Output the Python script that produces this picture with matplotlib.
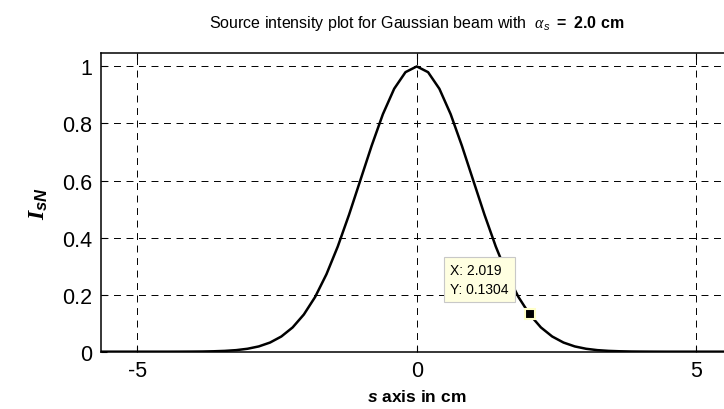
"""
Source intensity of a Gaussian beam (alpha_s = 2.0 cm), normalised.
MATLAB-style figure with a data tip at s = 2.019 cm.
"""

import matplotlib
matplotlib.use("Agg")
import matplotlib.pyplot as plt

# ── Data ─────────────────────────────────────────────────────────────────────
S_CM = [
    -5.652, -5.450, -5.248, -5.047, -4.845, -4.643, -4.441, -4.239, -4.037,
    -3.835, -3.633, -3.432, -3.230, -3.028, -2.826, -2.624, -2.422, -2.220,
    -2.019, -1.817, -1.615, -1.413, -1.211, -1.009, -0.807, -0.606, -0.404,
    -0.202, 0.000, 0.202, 0.404, 0.606, 0.807, 1.009, 1.211, 1.413, 1.615,
    1.817, 2.019, 2.220, 2.422, 2.624, 2.826, 3.028, 3.230, 3.432, 3.633,
    3.835, 4.037, 4.239, 4.441, 4.643, 4.845, 5.047, 5.248, 5.450, 5.652,
]
I_SN = [
    0.0000, 0.0000, 0.0000, 0.0000, 0.0000, 0.0000, 0.0000, 0.0001, 0.0003,
    0.0006, 0.0014, 0.0028, 0.0054, 0.0102, 0.0184, 0.0320, 0.0532, 0.0850,
    0.1304, 0.1920, 0.2715, 0.3685, 0.4802, 0.6009, 0.7218, 0.8325, 0.9217,
    0.9798, 1.0000, 0.9798, 0.9217, 0.8325, 0.7218, 0.6009, 0.4802, 0.3685,
    0.2715, 0.1920, 0.1304, 0.0850, 0.0532, 0.0320, 0.0184, 0.0102, 0.0054,
    0.0028, 0.0014, 0.0006, 0.0003, 0.0001, 0.0000, 0.0000, 0.0000, 0.0000,
    0.0000, 0.0000, 0.0000,
]
TIP_X = 2.019
TIP_Y = 0.1304

X_TICKS = [-5, 0, 5]
X_TICK_LABELS = ["-5", "0", "5"]
Y_TICKS = [0, 0.2, 0.4, 0.6, 0.8, 1]
Y_TICK_LABELS = ["0", "0.2", "0.4", "0.6", "0.8", "1"]

# ── Style ────────────────────────────────────────────────────────────────────
plt.rcParams["font.family"] = ["Liberation Sans", "DejaVu Sans"]
plt.rcParams["mathtext.fontset"] = "custom"
plt.rcParams["mathtext.it"] = "Liberation Sans:italic:bold"
plt.rcParams["mathtext.bf"] = "Liberation Sans:bold"
plt.rcParams["mathtext.rm"] = "Liberation Sans"
plt.rcParams["mathtext.cal"] = "Liberation Serif:italic"
plt.rcParams["mathtext.sf"] = "Liberation Sans:italic"
plt.rcParams["mathtext.tt"] = "Liberation Serif:italic:bold"
plt.rcParams["lines.scale_dashes"] = False

fig = plt.figure(figsize=(7.24, 4.10), dpi=100, facecolor="white")
ax = fig.add_axes([0.1391, 0.1398, 0.8731, 0.7285])

ax.plot(S_CM, I_SN, color="black", lw=1.8, zorder=3)
ax.plot([TIP_X], [TIP_Y], marker="s", ms=7, color="black",
        mec="#ffffc8", mew=1.5, zorder=5)

ax.annotate(f"X: {TIP_X}\nY: {TIP_Y}", xy=(TIP_X, TIP_Y),
            xytext=(-57.5, 25), textcoords="offset points",
            ha="left", va="center", fontsize=10, linespacing=1.45,
            bbox=dict(boxstyle="square,pad=0.45", fc="#ffffe1",
                      ec="#c8c8c8", lw=0.8), zorder=6)

ax.set_xlim(-5.652, 5.652)
ax.set_ylim(0, 1.047)
ax.set_xticks(X_TICKS)
ax.set_xticklabels(X_TICK_LABELS)
ax.set_yticks(Y_TICKS)
ax.set_yticklabels(Y_TICK_LABELS)
ax.tick_params(direction="in", length=4, width=0.8, top=True, right=True,
               labelsize=15.5, pad=6)

ax.grid(True, color="black", lw=0.7, ls=(0, (5, 4)))
ax.set_axisbelow(True)
for sp in ax.spines.values():
    sp.set_linewidth(1.1)

ax.set_xlabel(r"$s$ axis in cm", fontsize=12.5, fontweight="bold", labelpad=5)
ax.set_ylabel(r"$\mathtt{I}_{sN}$", fontsize=17, labelpad=9)
ax.set_title(r"Source intensity plot for Gaussian beam with  "
             r"$\mathcal{\alpha}_{\mathsf{s}}\ \mathbf{=\ 2.0\ cm}$",
             fontsize=11.5, pad=19)

plt.savefig("out.png", dpi=100, facecolor="white")
